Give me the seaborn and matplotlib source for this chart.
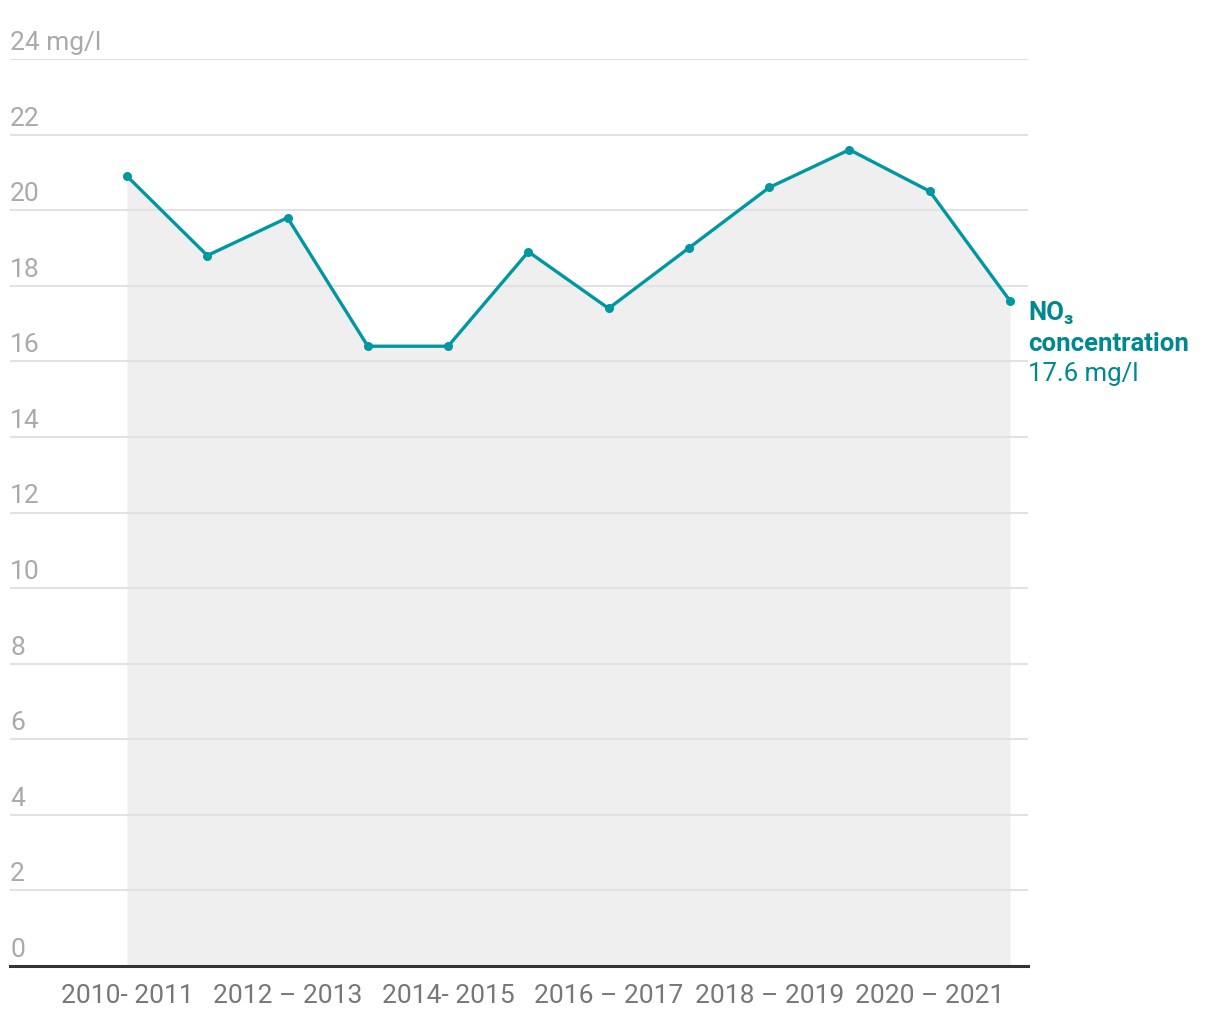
import matplotlib
matplotlib.use("Agg")
import matplotlib.pyplot as plt
import seaborn as sns
import pandas as pd
import numpy as np

# Data
periods = list(range(12))
no3_values = [20.9, 18.8, 19.8, 16.4, 16.4, 18.9, 17.4, 19.0, 20.6, 21.6, 20.5, 17.6]
tick_positions = [0, 2, 4, 6, 8, 10]
tick_labels = ["2010- 2011", "2012 \u2013 2013", "2014- 2015", "2016 \u2013 2017",
               "2018 \u2013 2019", "2020 \u2013 2021"]
y_ticks = [0, 2, 4, 6, 8, 10, 12, 14, 16, 18, 20, 22, 24]
y_tick_labels = ["0", "2", "4", "6", "8", "10", "12", "14", "16", "18", "20", "22", "24 mg/l"]

df = pd.DataFrame({"period": periods, "value": no3_values})

sns.set_theme(style="white")
plt.rcParams['font.family'] = ['Roboto', 'DejaVu Sans']

LINE = "#0097a3"
TEXT_TEAL = "#00888f"

fig = plt.figure(figsize=(12.2, 10.2), dpi=100)
ax = fig.add_axes([10/1220, 1 - 967/1020, (1028 - 10)/1220, (967 - 60)/1020])

ax.set_ylim(0, 24)
step = (1010 - 127) / 11
ax.set_xlim(-(127 - 10) / step, 11 + (1028 - 1010) / step)

# gridlines
for yv in y_ticks[1:]:
    ax.axhline(yv, color="#e2e2e2", lw=1.5, zorder=2)

ax.fill_between(df["period"], df["value"], 0, color="#efefef", lw=0, zorder=1)

sns.lineplot(data=df, x="period", y="value", ax=ax, color=LINE, lw=2.4,
             marker="o", markersize=6.5, markeredgewidth=0, zorder=4)

for s in ["top", "right", "left"]:
    ax.spines[s].set_visible(False)
ax.spines["bottom"].set_color("#333333")
ax.spines["bottom"].set_linewidth(2.2)
ax.spines["bottom"].set_zorder(5)

ax.set_yticks([])
ax.set_xticks(tick_positions)
ax.set_xticklabels(tick_labels, fontsize=19, color="#777777")
ax.tick_params(axis="x", length=0, pad=12)
ax.set_xlabel("")
ax.set_ylabel("")

# y tick labels drawn inside, above gridlines
for yv, lab in zip(y_ticks, y_tick_labels):
    ax.annotate(lab, xy=(0, yv), xycoords=("axes fraction", "data"),
                xytext=(0, 5), textcoords="offset pixels",
                ha="left", va="bottom", fontsize=19, color="#aaaaaa")

# end annotation
last_x, last_y = periods[-1], no3_values[-1]
ax.annotate("NO\u2083", xy=(1, last_y), xycoords=("axes fraction", "data"),
            xytext=(0, -11), textcoords="offset pixels", ha="left", va="center",
            fontsize=18.5, fontweight="bold", color=TEXT_TEAL, annotation_clip=False)
ax.annotate("concentration", xy=(1, last_y), xycoords=("axes fraction", "data"),
            xytext=(0, -42), textcoords="offset pixels", ha="left", va="center",
            fontsize=18.5, fontweight="bold", color=TEXT_TEAL, annotation_clip=False)
ax.annotate(f"{last_y} mg/l", xy=(1, last_y), xycoords=("axes fraction", "data"),
            xytext=(0, -72), textcoords="offset pixels", ha="left", va="center",
            fontsize=18.5, color=TEXT_TEAL, annotation_clip=False)

fig.savefig("out.png", dpi=100)
